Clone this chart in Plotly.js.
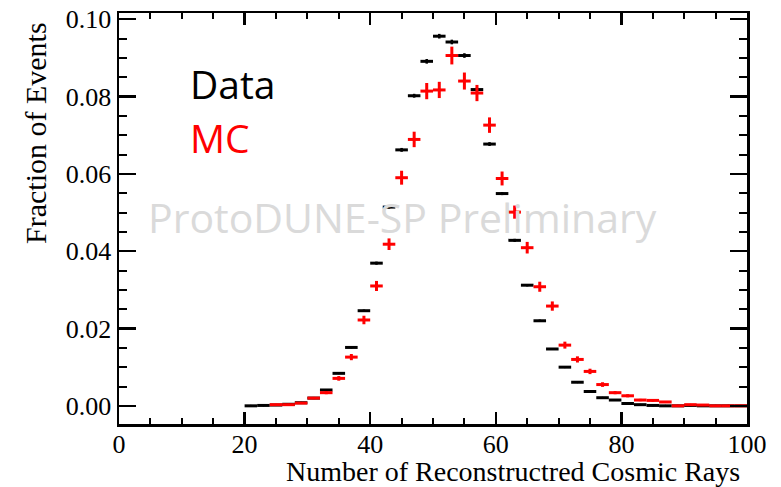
<!DOCTYPE html>
<html>
<head>
<meta charset="utf-8">
<script src="https://cdn.plot.ly/plotly-3.0.1.min.js"></script>
<style>html,body{margin:0;padding:0;background:#fff;}#chart{width:781px;height:487px;}</style>
</head>
<body>
<div id="chart"></div>
<script>
// Bin centres (bin width 2)
const binCenters = [21,23,25,27,29,31,33,35,37,39,41,43,45,47,49,51,53,55,57,59,61,63,65,67,69,71,73,75,77,79,81,83,85,87,89,91,93,95,97,99];
const binHalfWidth = 1;

// Data (black)
const dataValues = [0.0000,0.0001,0.0002,0.0004,0.0008,0.0020,0.0041,0.0084,0.0151,0.0246,0.0369,0.0514,0.0662,0.0802,0.0891,0.0956,0.0941,0.0906,0.0818,0.0677,0.0549,0.0428,0.0312,0.0220,0.0147,0.0100,0.0061,0.0037,0.0021,0.0015,0.0006,0.0003,0.0001,0.0000,0.0000,0.0001,0.0000,0.0000,0.0000,0.0000];
const dataErrors = [0.0000,0.0000,0.0000,0.0001,0.0001,0.0001,0.0001,0.0002,0.0002,0.0003,0.0004,0.0004,0.0005,0.0005,0.0006,0.0006,0.0006,0.0006,0.0005,0.0005,0.0004,0.0004,0.0003,0.0003,0.0002,0.0002,0.0001,0.0001,0.0001,0.0001,0.0000,0.0000,0.0000,0.0000,0.0000,0.0000,0.0000,0.0000,0.0000,0.0000];

// MC (red)
const mcValues = [null,null,0.0003,0.0003,0.0007,0.0020,0.0034,0.0071,0.0126,0.0222,0.0310,0.0418,0.0590,0.0689,0.0814,0.0817,0.0906,0.0840,0.0809,0.0726,0.0588,0.0501,0.0409,0.0308,0.0258,0.0157,0.0120,0.0089,0.0055,0.0034,0.0026,0.0015,0.0014,0.0010,0.0000,0.0003,0.0002,0.0000,0.0000,0.0000];
const mcErrors = [0,0,0.0001,0.0001,0.0002,0.0003,0.0004,0.0006,0.0008,0.0011,0.0013,0.0015,0.0018,0.0020,0.0021,0.0021,0.0023,0.0022,0.0021,0.0020,0.0018,0.0017,0.0015,0.0013,0.0012,0.0009,0.0008,0.0007,0.0006,0.0004,0.0004,0.0003,0.0003,0.0002,0.0001,0.0001,0.0001,0.0001,0.0001,0.0001];

// Labels
const legendLabels = ["Data", "MC"];
const watermark = "ProtoDUNE-SP Preliminary";
const xTitle = "Number of Reconstructred Cosmic Rays";
const yTitle = "Fraction of Events";

const serif = "Liberation Serif, Times New Roman, serif";
const sans = "Open Sans, Liberation Sans, sans-serif";

const traces = [
  {
    type: 'scatter', mode: 'markers', name: legendLabels[0],
    x: binCenters, y: dataValues,
    marker: {size: 2, color: 'black'},
    error_x: {type: 'constant', value: binHalfWidth, width: 0, thickness: 3, color: 'black'},
    error_y: {type: 'data', array: dataErrors, width: 0, thickness: 2.5, color: 'black'},
    showlegend: false, cliponaxis: true
  },
  {
    type: 'scatter', mode: 'markers', name: legendLabels[1],
    x: binCenters, y: mcValues,
    marker: {size: 2, color: 'red'},
    error_x: {type: 'constant', value: binHalfWidth, width: 0, thickness: 3, color: 'red'},
    error_y: {type: 'data', array: mcErrors, width: 0, thickness: 3, color: 'red'},
    showlegend: false, cliponaxis: true
  }
];

const L = 119, R = 34, T = 13, B = 63;
const W = 781, H = 487;
const pw = W - L - R, ph = H - T - B;
function px(x){ return (x - L) / pw; }
function py(y){ return (H - B - y) / ph; }

const layout = {
  width: W, height: H,
  margin: {l: L, r: R, t: T, b: B, pad: 0},
  paper_bgcolor: 'white', plot_bgcolor: 'white',
  showlegend: false,
  xaxis: {
    range: [0, 100], dtick: 20, tick0: 0,
    showline: true, linewidth: 2.5, linecolor: 'black', mirror: 'allticks',
    ticks: 'inside', ticklen: 12, tickwidth: 2.5, tickcolor: 'black',
    minor: {dtick: 5, tick0: 0, ticks: 'inside', ticklen: 6, tickwidth: 2, tickcolor: 'black', showgrid: false},
    showgrid: false, zeroline: false,
    ticklabelstandoff: -5,
    tickfont: {family: serif, size: 26, color: 'black'}
  },
  yaxis: {
    range: [-0.0047, 0.1016], dtick: 0.02, tick0: 0, tickformat: '.2f',
    showline: true, linewidth: 2.5, linecolor: 'black', mirror: 'allticks',
    ticks: 'inside', ticklen: 17, tickwidth: 2.5, tickcolor: 'black',
    minor: {dtick: 0.005, tick0: 0, ticks: 'inside', ticklen: 8, tickwidth: 2, tickcolor: 'black', showgrid: false},
    showgrid: false, zeroline: false,
    tickfont: {family: serif, size: 26, color: 'black'}
  },
  annotations: [
    {text: watermark, xref: 'paper', yref: 'paper', x: px(146), y: py(217), xanchor: 'left', yanchor: 'middle',
     showarrow: false, font: {family: sans, size: 41, color: 'rgb(218,218,218)'}},
    {text: legendLabels[0], xref: 'paper', yref: 'paper', x: px(188), y: py(83), xanchor: 'left', yanchor: 'middle',
     showarrow: false, font: {family: sans, size: 39, color: 'black'}},
    {text: legendLabels[1], xref: 'paper', yref: 'paper', x: px(188), y: py(137), xanchor: 'left', yanchor: 'middle',
     showarrow: false, font: {family: sans, size: 39, color: 'red'}},
    {text: xTitle, xref: 'paper', yref: 'paper', x: px(742), y: py(471), xanchor: 'right', yanchor: 'middle',
     showarrow: false, font: {family: serif, size: 28, color: 'black'}},
    {text: yTitle, xref: 'paper', yref: 'paper', x: px(35), y: py(20), xanchor: 'center', yanchor: 'top', textangle: -90,
     showarrow: false, font: {family: serif, size: 30, color: 'black'}}
  ]
};

Plotly.newPlot('chart', traces, layout, {staticPlot: true, displayModeBar: false});
</script>
</body>
</html>
